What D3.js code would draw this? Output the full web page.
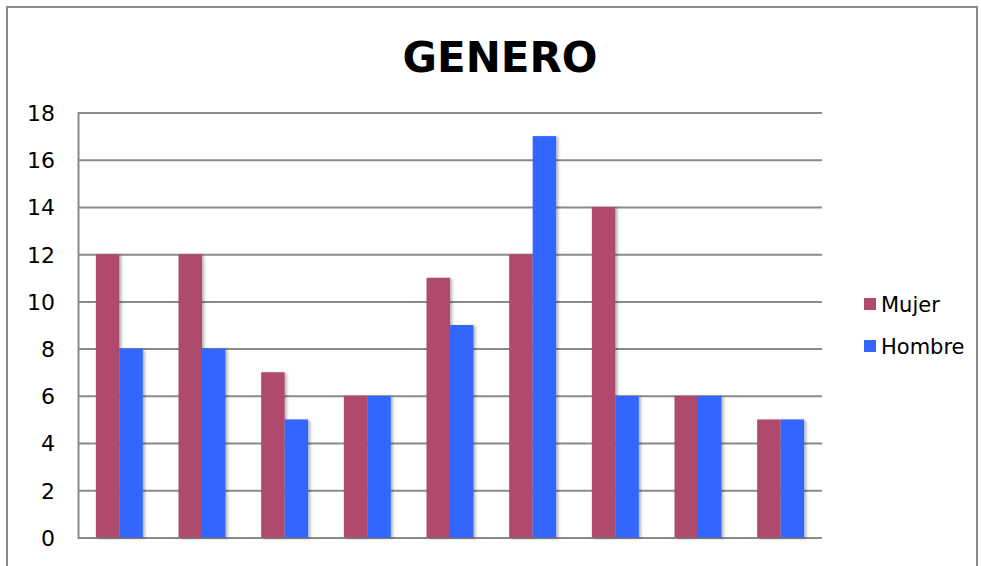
<!DOCTYPE html>
<html>
<head>
<meta charset="utf-8">
<script src="https://cdnjs.cloudflare.com/ajax/libs/d3/7.8.5/d3.min.js"></script>
<style>
  body { margin: 0; background: #fff; }
  svg { display: block; font-family: "DejaVu Sans", Verdana, sans-serif; }
</style>
</head>
<body>
<div class="graph-container"></div>
<script>
// chart data
var categories = ['1', '2', '3', '4', '5', '6', '7', '8', '9'];
var mujer = [12, 12, 7, 6, 11, 12, 14, 6, 5];
var hombre = [8, 8, 5, 6, 9, 17, 6, 6, 5];
var seriesNames = ['Mujer', 'Hombre'];
var yTicks = [0, 2, 4, 6, 8, 10, 12, 14, 16, 18];

var svgWidth = 981;
var svgHeight = 566;
var plotLeft = 78;
var plotRight = 822;
var plotTop = 112.5;
var plotBottom = 537.5;
var colors = ['#B04A6E', '#3366FF'];

var svg = d3.select('.graph-container').append('svg')
  .attr('width', svgWidth)
  .attr('height', svgHeight);

// soft shadow like the office chart
var defs = svg.append('defs');
var filter = defs.append('filter').attr('id', 'shadow')
  .attr('x', '-20%').attr('y', '-5%').attr('width', '160%').attr('height', '120%');
filter.append('feDropShadow')
  .attr('dx', 2).attr('dy', 1).attr('stdDeviation', 1.6)
  .attr('flood-color', '#000').attr('flood-opacity', 0.3);

// outer frame
svg.append('rect')
  .attr('x', 7)
  .attr('y', 7)
  .attr('width', 970)
  .attr('height', 600)
  .attr('fill', 'none')
  .attr('stroke', '#8a8a8a')
  .attr('stroke-width', 2);

// title
svg.append('text')
  .attr('x', 500)
  .attr('y', 72)
  .style('text-anchor', 'middle')
  .style('font-weight', 'bold')
  .style('font-size', '42px')
  .text('GENERO');

var xScale = d3.scaleBand()
  .domain(categories)
  .range([plotLeft, plotRight])
  .paddingInner(0.432)
  .paddingOuter(0.216);

var xInner = d3.scaleBand()
  .domain(seriesNames)
  .range([0, xScale.bandwidth()]);

var yScale = d3.scaleLinear()
  .domain([0, 18])
  .range([plotBottom, plotTop]);

// gridlines and y labels
var yAxis = d3.axisLeft(yScale)
  .tickValues(yTicks)
  .tickSize(-(plotRight - plotLeft))
  .tickPadding(23)
  .tickFormat(d3.format('d'));

var yAxisG = svg.append('g')
  .attr('transform', 'translate(' + plotLeft + ',0)')
  .call(yAxis);
yAxisG.select('.domain').attr('stroke', '#8a8a8a').attr('stroke-width', 2);
yAxisG.selectAll('.tick line').attr('stroke', '#8a8a8a').attr('stroke-width', 2);
yAxisG.selectAll('.tick text')
  .attr('fill', '#000')
  .attr('dy', '0.36em')
  .style('font-size', '22px')
  .style('font-family', '"DejaVu Sans", Verdana, sans-serif');

// bars
var rows = categories.map(function(c, i) {
  return { cat: c, values: [mujer[i], hombre[i]] };
});

var groups = svg.selectAll('.group')
  .data(rows)
  .enter()
  .append('g')
  .attr('class', 'group')
  .attr('transform', function(d) { return 'translate(' + xScale(d.cat) + ',0)'; });

groups.selectAll('rect')
  .data(function(d) {
    return d.values.map(function(v, j) { return { name: seriesNames[j], value: v, idx: j }; });
  })
  .enter()
  .append('rect')
  .attr('x', function(d) { return xInner(d.name); })
  .attr('y', function(d) { return yScale(d.value); })
  .attr('width', xInner.bandwidth())
  .attr('height', function(d) { return yScale(0) - yScale(d.value); })
  .attr('fill', function(d) { return colors[d.idx]; })
  .attr('filter', 'url(#shadow)');

// legend
var legend = svg.append('g')
  .attr('transform', 'translate(864,0)');

var legendY = [304, 346];
seriesNames.forEach(function(name, i) {
  legend.append('rect')
    .attr('x', 0)
    .attr('y', legendY[i] - 6)
    .attr('width', 12)
    .attr('height', 12)
    .attr('fill', colors[i]);
  legend.append('text')
    .attr('x', 17)
    .attr('y', legendY[i] + 8)
    .style('font-size', '21px')
    .text(name);
});
</script>
</body>
</html>
